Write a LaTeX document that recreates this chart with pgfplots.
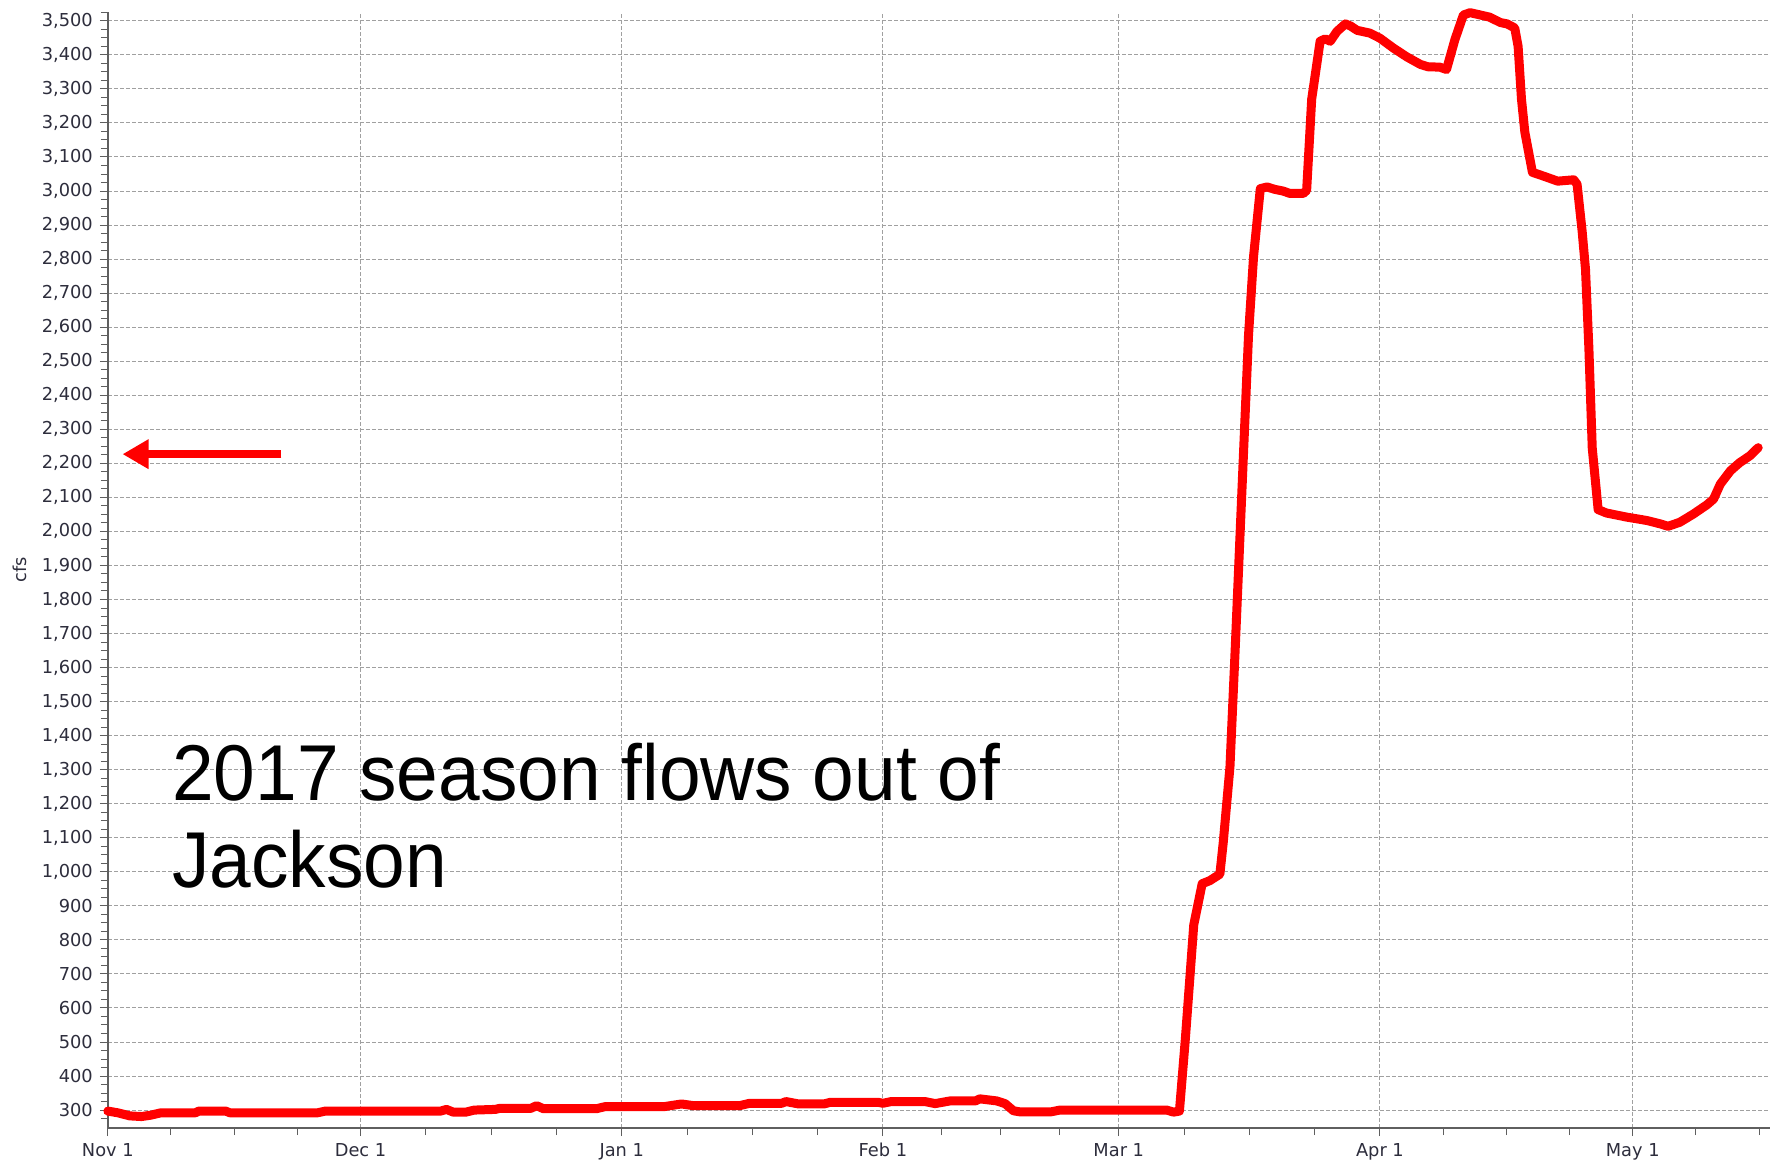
\documentclass[border=0pt]{standalone}
\usepackage{fontspec}
\setmainfont{DejaVu Sans}
\newfontfamily\annotfont{Liberation Sans}
\usepackage{graphicx}
\usepackage{pgfplots}
\usepackage{pgfplotstable}
\pgfplotsset{compat=1.18}
\usetikzlibrary{arrows.meta}

\definecolor{flowred}{RGB}{255,0,0}
\definecolor{gridgray}{RGB}{160,160,160}
\definecolor{axisgray}{RGB}{95,95,95}
\definecolor{labelgray}{RGB}{45,45,60}

% day = days since Nov 1, cfs = flow
\pgfplotstableread{
day cfs
0 297
1.2 292
2.6 283
4.0 281
5.1 285
6.3 292
10.4 292
10.8 297
14.0 297
14.5 292
24.9 292
25.8 297
39.5 297
40.2 302
41.0 294
42.5 294
43.5 300
46 302
46.5 305
50.2 305
50.9 313
51.7 304
58.0 304
59.0 310
66.0 310
68.1 318
69.5 313
75.0 313
76.2 320
80.0 320
80.5 325
82.0 318
85.0 318
85.8 323
91.4 323
92.0 320
93.0 325
97.0 325
98.2 319
100.0 327
103.0 327
103.5 333
105.5 327
106.5 319
107.5 298
108.2 295
112 295
113 300
125.7 300
126.5 294
127.2 297
127.9 508
128.9 844
129.9 965
130.8 974
132.0 993
132.4 1086
133.2 1309
133.8 1644
134.6 2110
135.4 2576
136.0 2808
136.8 3007
137.6 3012
138.5 3005
139.5 3000
140.3 2993
141.9 2993
142.3 3002
142.9 3270
143.9 3440
144.5 3447
145.1 3440
145.9 3469
146.9 3491
147.5 3485
148.3 3472
149.8 3464
151.0 3449
152.6 3420
154.2 3394
155.8 3372
156.7 3365
158.1 3364
158.9 3357
159.9 3445
160.9 3517
161.7 3524
163.3 3515
164.0 3511
165.3 3495
166.1 3491
167.0 3479
167.4 3425
167.8 3270
168.2 3173
169.1 3055
170.4 3044
172.1 3029
174.0 3033
174.4 3020
175.0 2882
175.4 2770
175.8 2539
176.2 2245
176.9 2064
177.9 2054
180.3 2042
182.7 2032
184.3 2022
185.2 2015
186.6 2027
188.2 2051
189.8 2078
190.6 2095
191.4 2139
192.6 2178
193.7 2202
194.9 2222
195.9 2246
}\flows

\begin{document}
\begin{tikzpicture}
\begin{axis}[
  name=ax,
  scale only axis,
  width=831pt, height=558pt,
  xmin=0, xmax=197.3,
  ymin=247, ymax=3526,
  axis x line*=bottom,
  axis y line*=left,
  axis line style={axisgray, line width=1pt},
  clip=false,
  xtick={0,30,61,92,120,151,181},
  xticklabels={Nov 1, Dec 1, Jan 1, Feb 1, Mar 1, Apr 1, May 1},
  minor xtick={7.5,15,22.5,37.75,45.5,53.25,68.75,76.5,84.25,99,106,113,127.75,135.5,143.25,158.5,166,173.5,188.5,196},
  ytick={300,400,...,3500},
  minor ytick={275,300,...,3525},
  tick align=outside,
  major tick length=4pt,
  minor tick length=3.5pt,
  tick style={axisgray, line width=0.5pt},
  grid=major,
  major grid style={gridgray, dash pattern=on 2pt off 1pt, line width=0.5pt},
  ticklabel style={font=\fontsize{8.9}{10}\selectfont, text=labelgray},
  /pgf/number format/.cd, 1000 sep={,}, assume math mode=true,
  /pgfplots/.cd,
  ylabel={cfs},
  ylabel style={at={(axis description cs:-0.053,0.5)}, anchor=center,
    font=\fontsize{8.9}{10}\selectfont, text=labelgray},
]
\addplot[flowred, line width=4.5pt, line join=round, line cap=round]
  table[x=day, y=cfs]{\flows};

\node[anchor=base west, inner sep=0pt, font=\annotfont\fontsize{39.6}{44}\selectfont]
  at (axis cs:7.6,1210) {\scalebox{0.945}[1]{2017 season flows out of}};
\node[anchor=base west, inner sep=0pt, font=\annotfont\fontsize{39.6}{44}\selectfont]
  at (axis cs:7.6,953) {\scalebox{0.945}[1]{Jackson}};

\draw[flowred, line width=4.2pt, -{Triangle[length=13pt,width=14pt]}]
  (axis cs:20.6,2227) -- (axis cs:1.75,2227);
\end{axis}
\pgfresetboundingbox
\path[use as bounding box] ([shift={(-53.9pt,-17pt)}]ax.south west)
  rectangle ([shift={(4.5pt,6pt)}]ax.north east);
\end{tikzpicture}
\end{document}
